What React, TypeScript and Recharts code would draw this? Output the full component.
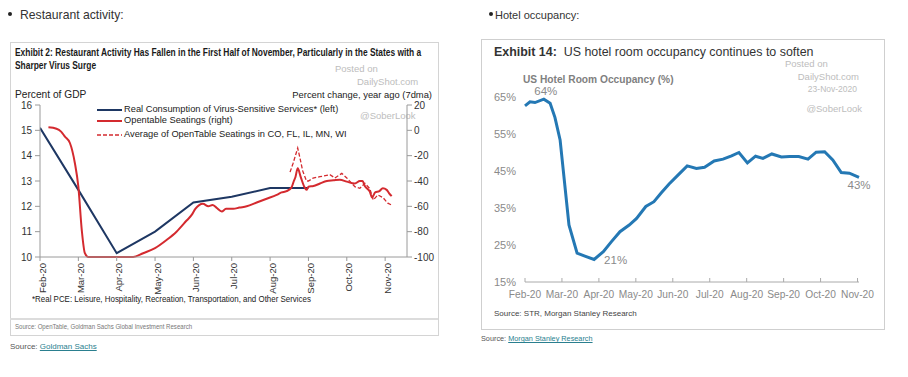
import React from "react";
import { LineChart, Line, XAxis, YAxis } from "recharts";

// ---- restaurant chart (Goldman Sachs) ----
// x = months since Feb-20
const monthLabels = ["Feb-20", "Mar-20", "Apr-20", "May-20", "Jun-20", "Jul-20", "Aug-20", "Sep-20", "Oct-20", "Nov-20"];
const monthTicks = [0, 1, 2, 3, 4, 5, 6, 7, 8, 9];
const gdpTicks = [10, 11, 12, 13, 14, 15, 16];
const pctTicks = [-100, -80, -60, -40, -20, 0, 20];

const pceMonths = [0, 1, 2, 3, 4, 5, 6, 7];
const pceValues = [15.1, 12.65, 10.15, 11.0, 12.15, 12.38, 12.72, 12.72];

const seatMonths = [
  0.22, 0.43, 0.55, 0.65, 0.78, 0.91, 1.0, 1.09, 1.17, 1.26, 1.6, 2.0, 2.43, 2.69, 3.0, 3.3, 3.56, 3.83, 3.95,
  4.05, 4.15, 4.25, 4.39, 4.5, 4.6, 4.74, 4.85, 5.04, 5.2, 5.39, 5.65, 5.91, 6.17, 6.3, 6.43, 6.56, 6.62,
  6.66, 6.72, 6.8, 6.9, 6.95, 7.0, 7.13, 7.3, 7.48, 7.65, 7.82, 8.0, 8.21, 8.34, 8.41, 8.47, 8.6, 8.66,
  8.74, 8.85, 8.94, 9.04, 9.1, 9.17,
];
const seatValues = [
  2.4, 1.3, -1, -5, -10, -26, -44.5, -79, -97, -100, -100, -100, -100, -97, -93, -86.6, -80, -71, -67,
  -62, -59, -58, -60, -59, -61, -64, -62, -62, -61, -60, -57, -54, -51, -49, -48, -45, -40,
  -37, -30, -37, -45, -47, -44.5, -44, -42, -40, -39.5, -39, -40.5, -42, -40, -40, -44, -48.4, -53,
  -49, -48, -45.7, -47, -49.5, -52,
];

const stateMonths = [
  6.52, 6.6, 6.66, 6.72, 6.78, 6.85, 6.95, 7.0, 7.12, 7.3, 7.56, 7.69, 7.87, 8.0, 8.21, 8.34, 8.47, 8.6,
  8.69, 8.81, 8.94, 9.07, 9.17,
];
const stateValues = [
  -33, -26, -20, -14, -22, -32, -40, -40, -37.7, -36.6, -35, -37.6, -34, -37.6, -44.5, -45.8, -41.8, -46,
  -55, -51, -53, -57.5, -59,
];

// ---- hotel chart (Morgan Stanley) ----
const hotelMonths = [
  0, 0.135, 0.27, 0.51, 0.68, 0.81, 0.95, 1.19, 1.41, 1.62, 1.87, 2.12, 2.34, 2.57, 2.82, 3.02, 3.27, 3.49,
  3.69, 3.9, 4.14, 4.39, 4.64, 4.86, 5.12, 5.36, 5.59, 5.79, 6.02, 6.24, 6.44, 6.68, 6.94, 7.16, 7.41, 7.66,
  7.88, 8.11, 8.33, 8.56, 8.78, 9.04,
];
const hotelValues = [
  62.6, 63.7, 63.5, 64.4, 63.3, 59.5, 53.4, 30.4, 22.8, 22, 21.1, 23.2, 25.9, 28.6, 30.4, 32.2, 35.4, 36.7,
  39.1, 41.5, 43.9, 46.4, 45.7, 46, 47.7, 48.2, 49.1, 50, 47.2, 49, 48.4, 49.6, 48.8, 48.9, 48.9, 48.2,
  50.1, 50.2, 48, 44.6, 44.4, 43.3,
];
const occTicks = [15, 25, 35, 45, 55, 65];

const pceData = pceMonths.map((m, i) => ({ m, v: pceValues[i] }));
const seatData = seatMonths.map((m, i) => ({ m, v: seatValues[i] }));
const stateData = stateMonths.map((m, i) => ({ m, v: stateValues[i] }));
const hotelData = hotelMonths.map((m, i) => ({ m, v: hotelValues[i] }));

const NAVY = "#1e3763";
const RED = "#d42a2f";
const HOTEL = "#2478b4";
const FONT = '"Liberation Sans", Arial, sans-serif';

function T({
  x, y, size, children, color = "#333", weight = 400, align = "left", sx = 1, style = {},
}: {
  x: number; y: number; size: number; children: React.ReactNode; color?: string; weight?: number;
  align?: "left" | "right"; sx?: number; style?: React.CSSProperties;
}) {
  const pos: React.CSSProperties = align === "right" ? { right: 908 - x } : { left: x };
  return (
    <div
      style={{
        position: "absolute", top: y - size / 2, ...pos, fontSize: size, lineHeight: `${size}px`,
        color, fontWeight: weight, fontFamily: FONT, whiteSpace: "nowrap",
        transform: sx !== 1 ? `scaleX(${sx})` : undefined,
        transformOrigin: align === "right" ? "right center" : "left center", ...style,
      }}
    >
      {children}
    </div>
  );
}

function RotTick({ x, y, payload }: any) {
  const ty = y + 6;
  return (
    <g>
      <line x1={x} x2={x} y1={y} y2={y + 4} stroke="#9a9a9a" />
      <text
        x={x + 2} y={ty} transform={`rotate(-90 ${x + 2} ${ty})`} textAnchor="end" dominantBaseline="central"
        fontSize={9.5} fill="#333" fontFamily={FONT}
      >
        {monthLabels[payload.value]}
      </text>
    </g>
  );
}

function RestaurantChart() {
  return (
    <LineChart width={450} height={377} margin={{ top: 105, right: 8, left: 0, bottom: 80 }}>
      <XAxis
        dataKey="m" type="number" domain={[0, 9.57]} ticks={monthTicks} interval={0}
        height={40} tick={<RotTick />} tickLine={false} tickSize={0} tickMargin={0} stroke="#9a9a9a" allowDataOverflow
      />
      <YAxis
        yAxisId="left" dataKey="v" type="number" domain={[10, 16]} ticks={gdpTicks} width={40}
        tickSize={5} tickMargin={3} stroke="#9a9a9a" tick={{ fontSize: 10, fill: "#333", fontFamily: FONT }}
      />
      <YAxis
        yAxisId="right" orientation="right" dataKey="v" type="number" domain={[-100, 20]} ticks={pctTicks}
        width={35} tickSize={5} tickMargin={2} stroke="#9a9a9a"
        tick={{ fontSize: 10, fill: "#333", fontFamily: FONT, textAnchor: "start" }}
      />
      <Line yAxisId="left" data={pceData} dataKey="v" stroke={NAVY} strokeWidth={2} dot={false} type="linear" isAnimationActive={false} />
      <Line yAxisId="right" data={stateData} dataKey="v" stroke={RED} strokeWidth={1.3} strokeDasharray="4 2" dot={false} type="linear" isAnimationActive={false} />
      <Line yAxisId="right" data={seatData} dataKey="v" stroke={RED} strokeWidth={2} dot={false} type="monotone" isAnimationActive={false} />
    </LineChart>
  );
}

function hotelLabel(props: any) {
  const { x, y, index, value } = props;
  const maxI = hotelValues.indexOf(Math.max(...hotelValues));
  const minI = hotelValues.indexOf(Math.min(...hotelValues));
  const lastI = hotelValues.length - 1;
  let tx = x, ty = y, anchor = "middle";
  if (index === maxI) { tx = x + 2; ty = y - 8; }
  else if (index === minI) { tx = x + 10; ty = y + 1; anchor = "start"; }
  else if (index === lastI) { ty = y + 8; }
  else return null;
  return (
    <text key={index} x={tx} y={ty} textAnchor={anchor} dominantBaseline="central" fontSize={11.5} fill="#8a8a8a" fontFamily={FONT}>
      {Math.round(value)}%
    </text>
  );
}

function HotelTick({ x, y, payload }: any) {
  return (
    <g>
      <line x1={x} x2={x} y1={y} y2={y - 4} stroke="#aaa" />
      <text x={x} y={y + 12} textAnchor="middle" dominantBaseline="central" fontSize={10.2} fill="#8a8a8a" fontFamily={FONT}>
        {monthLabels[payload.value]}
      </text>
    </g>
  );
}

function HotelChart() {
  return (
    <LineChart width={438} height={377} data={hotelData} margin={{ top: 97, right: 49, left: 0, bottom: 65 }}>
      <XAxis
        dataKey="m" type="number" domain={[0, 9]} ticks={monthTicks} interval={0} height={30}
        tick={<HotelTick />} tickLine={false} tickSize={0} tickMargin={0} stroke="#aaa"
      />
      <YAxis
        domain={[15, 65]} ticks={occTicks} width={55} axisLine={false} tickLine={false} tickMargin={3}
        tickFormatter={(v) => `${v}%`} tick={{ fontSize: 11, fill: "#8a8a8a", fontFamily: FONT }}
      />
      <Line dataKey="v" stroke={HOTEL} strokeWidth={3} dot={false} type="linear" isAnimationActive={false} label={hotelLabel} />
    </LineChart>
  );
}

export default function App() {
  return (
    <div style={{ position: "absolute", left: 0, top: 0, width: 908, height: 377, background: "#fff", overflow: "hidden", fontFamily: FONT }}>
      {/* left panel */}
      <div style={{ position: "absolute", left: 8, top: 12, width: 4, height: 4, borderRadius: 2, background: "#222" }} />
      <T x={20} y={15} size={12.2} color="#333">Restaurant activity:</T>
      <div style={{ position: "absolute", left: 10, top: 42, width: 427, height: 292, border: "1px solid #d4d4d4" }} />
      <T x={15} y={52} size={10.5} weight={700} sx={0.8} color="#1a1a1a">
        Exhibit 2: Restaurant Activity Has Fallen in the First Half of November, Particularly in the States with a
      </T>
      <T x={15} y={65} size={10.5} weight={700} sx={0.8} color="#1a1a1a">Sharper Virus Surge</T>
      <T x={335} y={69} size={9.5} color="#bdbdbd">Posted on</T>
      <T x={357} y={82} size={9.5} color="#bdbdbd">DailyShot.com</T>
      <T x={360} y={116} size={9.5} color="#bdbdbd">@SoberLook</T>
      <T x={15} y={95} size={10.2} color="#222">Percent of GDP</T>
      <T x={432} y={95} size={9.4} color="#222" align="right">Percent change, year ago (7dma)</T>
      <div style={{ position: "absolute", left: 0, top: 0 }}>
        <RestaurantChart />
      </div>
      <svg style={{ position: "absolute", left: 0, top: 0 }} width={450} height={377}>
        <line x1={97} x2={122} y1={110} y2={110} stroke={NAVY} strokeWidth={2} />
        <line x1={97} x2={122} y1={121} y2={121} stroke={RED} strokeWidth={2} />
        <line x1={97} x2={122} y1={135} y2={135} stroke={RED} strokeWidth={1.3} strokeDasharray="4 2" />
      </svg>
      <T x={124} y={110} size={9.3} color="#222">Real Consumption of Virus-Sensitive Services* (left)</T>
      <T x={124} y={121} size={9.3} color="#222">Opentable Seatings (right)</T>
      <T x={124} y={135} size={9.3} color="#222">Average of OpenTable Seatings in CO, FL, IL, MN, WI</T>
      <T x={32} y={299} size={9.5} sx={0.835} color="#222">*Real PCE: Leisure, Hospitality, Recreation, Transportation, and Other Services</T>
      <div style={{ position: "absolute", left: 10, top: 318, width: 428, height: 2, background: "#dcdcdc" }} />
      <T x={15} y={327} size={8} sx={0.76} color="#777">Source: OpenTable, Goldman Sachs Global Investment Research</T>
      <T x={10} y={347} size={8} color="#555">
        Source: <span style={{ color: "#2a7f8f", textDecoration: "underline" }}>Goldman Sachs</span>
      </T>

      {/* right panel */}
      <div style={{ position: "absolute", left: 489, top: 12, width: 4, height: 4, borderRadius: 2, background: "#222" }} />
      <T x={495} y={15} size={11} color="#333">Hotel occupancy:</T>
      <div style={{ position: "absolute", left: 481, top: 39, width: 402, height: 289, border: "1px solid #cfcfcf" }} />
      <T x={494} y={51} size={13} sx={0.955} color="#333">
        <b>Exhibit 14:</b>&nbsp; US hotel room occupancy continues to soften
      </T>
      <T x={785} y={64} size={9.5} color="#bdbdbd">Posted on</T>
      <T x={859} y={77} size={9.5} color="#bdbdbd" align="right">DailyShot.com</T>
      <T x={857} y={89} size={8.5} color="#bdbdbd" align="right">23-Nov-2020</T>
      <T x={862} y={109} size={9.5} color="#bdbdbd" align="right">@SoberLook</T>
      <T x={523} y={80} size={10.2} weight={700} color="#808080">US Hotel Room Occupancy (%)</T>
      <div style={{ position: "absolute", left: 470, top: 0 }}>
        <HotelChart />
      </div>
      <T x={494} y={314} size={8} color="#444">Source: STR, Morgan Stanley Research</T>
      <T x={481} y={339} size={7.3} color="#555">
        Source: <span style={{ color: "#2a7f8f", textDecoration: "underline" }}>Morgan Stanley Research</span>
      </T>
    </div>
  );
}
